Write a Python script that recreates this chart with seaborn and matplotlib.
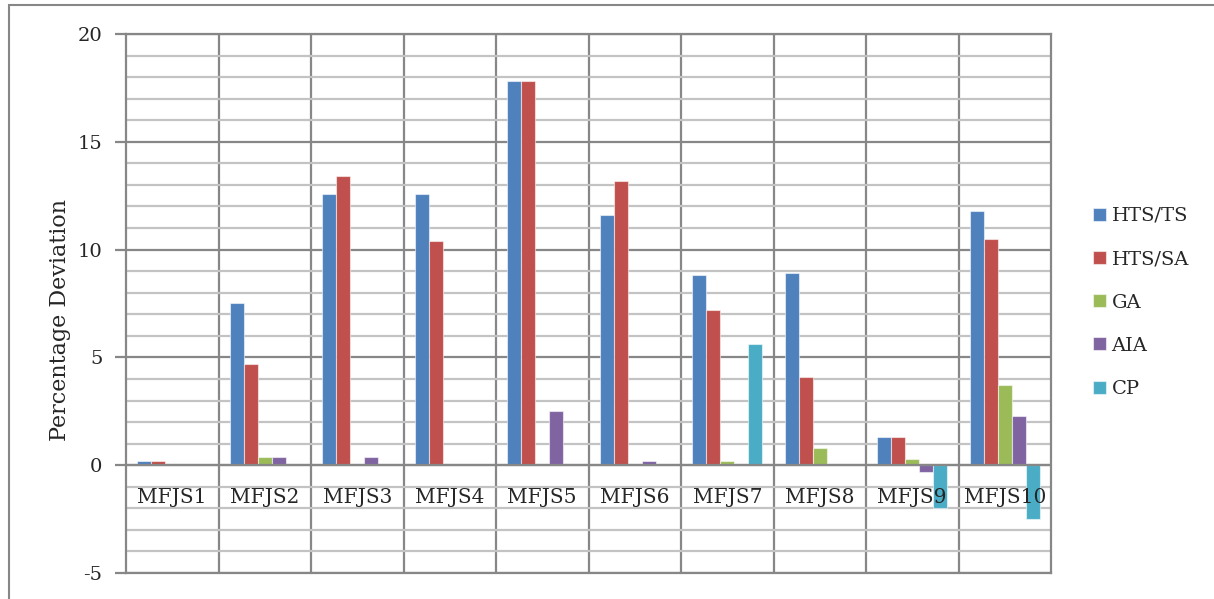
import numpy as np
import pandas as pd
import matplotlib
matplotlib.use("Agg")
import matplotlib.pyplot as plt
from matplotlib.patches import Rectangle
from matplotlib.ticker import FixedLocator
import seaborn as sns

# Benchmark instances and scheduling methods
jobs = ["MFJS1", "MFJS2", "MFJS3", "MFJS4", "MFJS5",
        "MFJS6", "MFJS7", "MFJS8", "MFJS9", "MFJS10"]
methods = ["HTS/TS", "HTS/SA", "GA", "AIA", "CP"]

# Percentage deviation per method
hts_ts = [0.2, 7.5, 12.6, 12.6, 17.8, 11.6, 8.8, 8.9, 1.3, 11.8]
hts_sa = [0.2, 4.7, 13.4, 10.4, 17.8, 13.2, 7.2, 4.1, 1.3, 10.5]
ga = [0.0, 0.4, 0.0, 0.0, 0.0, 0.0, 0.2, 0.8, 0.3, 3.7]
aia = [0.0, 0.4, 0.4, 0.0, 2.5, 0.2, 0.0, 0.0, -0.3, 2.3]
cp = [0.0, 0.0, 0.0, 0.0, 0.0, 0.0, 5.6, 0.0, -2.0, -2.5]

y_ticks = [-5, 0, 5, 10, 15, 20]
colors = ["#4F81BD", "#C0504D", "#9BBB59", "#8064A2", "#4BACC6"]

series = {"HTS/TS": hts_ts, "HTS/SA": hts_sa, "GA": ga, "AIA": aia, "CP": cp}
df = pd.DataFrame(
    [(job, m, v) for m in methods for job, v in zip(jobs, series[m])],
    columns=["job", "method", "value"],
)

sns.set_style("white")
plt.rcParams["font.family"] = ["DejaVu Serif"]
plt.rcParams["axes.unicode_minus"] = False

GRID_DARK = "#878787"
GRID_LIGHT = "#c3c3c3"

fig = plt.figure(figsize=(12.14, 5.99), dpi=100)
ax = fig.add_axes([126 / 1214, 1 - 573 / 599, 925 / 1214, 539 / 599])
ax.set_axisbelow(True)

sns.barplot(
    data=df, x="job", y="value", hue="method",
    order=jobs, hue_order=methods, palette=colors,
    width=0.757, saturation=1, errorbar=None,
    edgecolor=(1, 1, 1, 0.55), linewidth=0.8, ax=ax,
)

ax.set_xlim(-0.5, len(jobs) - 0.5)
ax.set_ylim(y_ticks[0], y_ticks[-1])

# y grid: light lines every unit, darker at labelled ticks
ax.set_yticks(y_ticks)
ax.yaxis.set_minor_locator(FixedLocator(np.arange(y_ticks[0], y_ticks[-1] + 1, 1)))
ax.grid(which="minor", axis="y", color=GRID_LIGHT, lw=1.6)
ax.grid(which="major", axis="y", color=GRID_DARK, lw=1.6)

# vertical separators between categories
ax.set_xticks(range(len(jobs)))
ax.xaxis.set_minor_locator(FixedLocator(np.arange(0.5, len(jobs) - 0.5, 1)))
ax.grid(which="minor", axis="x", color=GRID_DARK, lw=1.6)
ax.grid(which="major", axis="x", visible=False)
ax.set_xticklabels([])
ax.tick_params(axis="x", which="both", length=0)
ax.tick_params(axis="y", which="minor", length=0)
ax.tick_params(axis="y", which="major", length=8, width=1.6, color=GRID_DARK,
               labelsize=14, pad=9, left=True)

# horizontal axis line at zero
ax.axhline(0, color=GRID_DARK, lw=1.6, zorder=4)

for s in ax.spines.values():
    s.set_color(GRID_DARK)
    s.set_linewidth(1.6)

# category names sit just below the zero line
for i, job in enumerate(jobs):
    ax.text(i, -1.5, job, ha="center", va="center", fontsize=14.5, zorder=5)

ax.set_xlabel("")
ax.set_ylabel("")
ax.text(-0.071, 0.47, "Percentage Deviation", transform=ax.transAxes,
        rotation=90, ha="center", va="center", fontsize=16)

handles, labels = ax.get_legend_handles_labels()
ax.legend(
    handles, labels, loc="center left",
    bbox_to_anchor=(1093 / 1214, 1 - 302.5 / 599),
    bbox_transform=fig.transFigure, frameon=False,
    fontsize=14, handlelength=0.65, handleheight=0.65,
    handletextpad=0.3, labelspacing=1.3, borderpad=0, borderaxespad=0,
)

# chart frame
fig.patches.append(Rectangle((9 / 1214, -0.05), 1.1, 1 - 5 / 599 + 0.05,
                             transform=fig.transFigure, fill=False,
                             edgecolor=GRID_DARK, lw=1.5))

fig.savefig("out.png", dpi=100)
